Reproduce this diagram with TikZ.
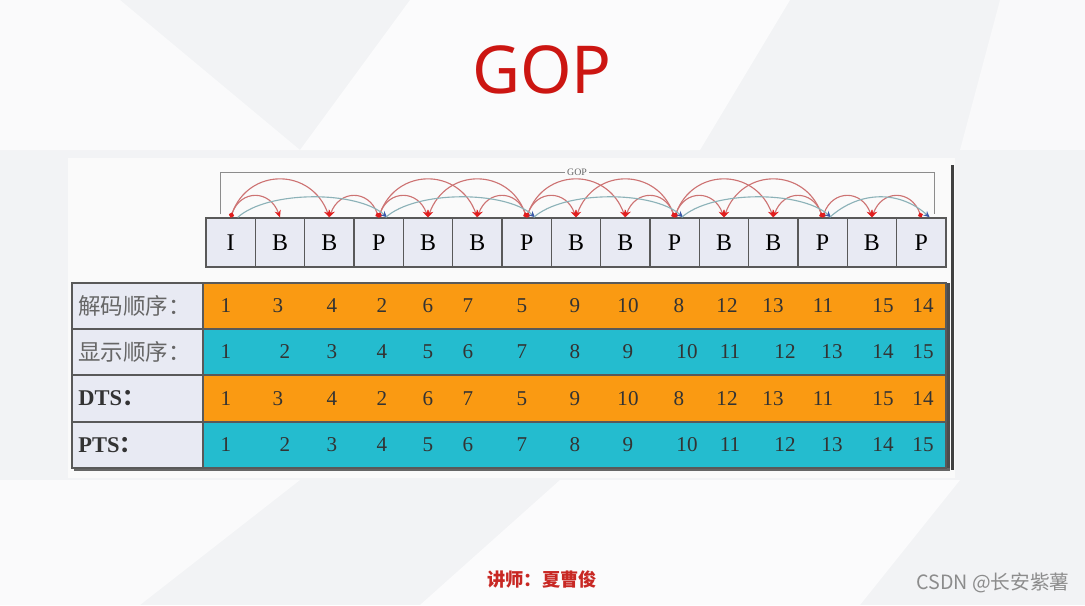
\documentclass[tikz,border=0pt]{standalone}
\usepackage{fontspec}
\setmainfont{Liberation Serif}
\newfontfamily\cjk{Noto Sans CJK SC}
\newfontfamily\titlefont{Noto Sans}
\usetikzlibrary{positioning}
\usetikzlibrary{arrows.meta}
\usetikzlibrary{calc}

\definecolor{titlered}{RGB}{204,22,18}
\definecolor{orangerow}{RGB}{250,154,18}
\definecolor{cyanrow}{RGB}{36,188,207}
\definecolor{framefill}{RGB}{232,234,243}
\definecolor{arcred}{RGB}{205,115,115}
\definecolor{tipred}{RGB}{225,30,30}
\definecolor{arcteal}{RGB}{140,178,184}
\definecolor{tipblue}{RGB}{60,90,170}
\definecolor{bggray}{RGB}{242,243,245}
\definecolor{footred}{RGB}{200,40,36}

\begin{document}
\begin{tikzpicture}
          [
          x=0.025cm, y=-0.025cm,
          Frame/.style={rectangle, draw=black!65, fill=framefill, line width=0.9pt, minimum width=1.233cm, minimum height=1.225cm, inner sep=0pt, font=\fontsize{17}{17}\selectfont},
          Num/.style={font=\fontsize{15}{15}\selectfont, text=black!80, inner sep=1pt},
          Lab/.style={anchor=west, inner sep=0pt, font=\fontsize{16}{16}\selectfont},
          RedArc/.style={draw=arcred, line width=0.8pt},
          Fwd/.style={{Circle[length=3.5pt,color=tipred]}-{Stealth[length=5pt,width=4.5pt,color=tipred]}},
          Bwd/.style={{Stealth[length=5pt,width=4.5pt,color=tipred]}-{Circle[length=3.5pt,color=tipred]}},
          TealArc/.style={draw=arcteal, line width=0.8pt, -{Stealth[length=4.5pt,width=4pt,color=tipblue]}},
          ]
          \useasboundingbox (0,0) rectangle (1085,605);

          % Background
          \fill[bggray] (0,0) rectangle (1085,605);
          \fill[white!60!bggray] (0,0) -- (120,0) -- (300,150) -- (0,150) -- cycle;
          \fill[white!70!bggray] (410,0) -- (790,0) -- (700,150) -- (300,150) -- cycle;
          \fill[white!50!bggray] (1000,0) -- (1085,0) -- (1085,150) -- (960,150) -- cycle;
          \fill[white!60!bggray] (0,480) -- (300,480) -- (140,605) -- (0,605) -- cycle;
          \fill[white!70!bggray] (560,480) -- (960,480) -- (860,605) -- (420,605) -- cycle;
          \fill[white!98!black] (68,158) rectangle (955,478);

          % Title
          \node[text=titlered, font=\titlefont\fontsize{47}{47}\selectfont] (title) at (542,70) {GOP};

          % Frames
          \foreach \t [count=\i] in {I,B,B,P,B,B,P,B,B,P,B,B,P,B,P}
            \node[Frame] (f\i) at ({206+49.33*(\i-0.5)},242.5) {\t};

          % GOP bracket
          \coordinate (gl) at ($(f1.north)+(-10,-3)$);
          \coordinate (gr) at ($(f15.north)+(13,-3)$);
          \node[fill=white!98!black, inner sep=1.5pt, text=black!60, font=\fontsize{7}{7}\selectfont] (gop) at (577,172) {GOP};
          \draw[black!45, line width=0.6pt] (gl) |- (gop.west);
          \draw[black!45, line width=0.6pt] (gop.east) -| (gr);

          % Lines
          \foreach \a/\b in {1/2,4/5,7/8,10/11,13/14}
            \draw[RedArc, Fwd] (f\a.north) .. controls +(10,-28) and +(-10,-28) .. (f\b.north);
          \foreach \a/\b in {3/4,6/7,9/10,12/13,14/15}
            \draw[RedArc, Bwd] (f\a.north) .. controls +(10,-28) and +(-10,-28) .. (f\b.north);
          \foreach \a/\b in {1/3,4/6,7/9,10/12}
            \draw[RedArc, Fwd] (f\a.north) .. controls +(18,-50) and +(-18,-50) .. (f\b.north);
          \foreach \a/\b in {5/7,8/10,11/13}
            \draw[RedArc, Bwd] (f\a.north) .. controls +(18,-50) and +(-18,-50) .. (f\b.north);
          \foreach \a/\b in {1/4,4/7,7/10,10/13,13/15}
            \draw[TealArc] ([xshift=5pt]f\a.north) .. controls +(30,-27) and +(-30,-27) .. ([xshift=6pt]f\b.north);

          % Table
          \fill[orangerow] (203,283) rectangle (946,329);
          \fill[cyanrow] (203,329) rectangle (946,375);
          \fill[orangerow] (203,375) rectangle (946,422);
          \fill[cyanrow] (203,422) rectangle (946,468);
          \fill[framefill] (72,283) rectangle (203,468);
          \fill[black!70] (946,283) rectangle (950,470);
          \fill[black!60] (74,468) rectangle (950,471);
          \fill[black!75] (951,165) rectangle (954,470);
          \draw[black!65, line width=0.9pt] (72,283) rectangle (946,468);
          \foreach \y in {329,375,422}
            \draw[black!65, line width=0.9pt] (72,\y) -- (946,\y);
          \draw[black!65, line width=0.9pt] (203,283) -- (203,468);

          % Row labels
          \node[Lab, text=black!60] (dec) at (78,306) {\cjk 解码顺序：};
          \node[Lab, text=black!60] (dis) at (78,352) {\cjk 显示顺序：};
          \node[Lab, text=black!80] (dts) at (78,398.5) {\textbf{DTS}{\cjk\bfseries ：}};
          \node[Lab, text=black!80] (pts) at (78,445) {\textbf{PTS}{\cjk\bfseries ：}};

          % Numbers
          \foreach \x/\v [count=\i] in {226/1,278/3,332/4,382/2,428/6,468/7,522/5,575/9,628/10,679/8,727/12,773/13,823/11,883/15,923/14} {
            \node[Num] (dec\i) at (\x,306) {\v};
            \node[Num] (dts\i) at (\x,398.5) {\v};
          }
          \foreach \x [count=\i] in {226,285,332,382,428,468,522,575,628,687,730,785,832,883,923} {
            \node[Num] (dis\i) at (\x,352) {\i};
            \node[Num] (pts\i) at (\x,445) {\i};
          }

          % Footer
          \node[text=footred, font=\cjk\bfseries\fontsize{13}{13}\selectfont] (teacher) at (542,580) {讲师：夏曹俊};
          \node[text=black!45, font=\cjk\fontsize{14}{14}\selectfont] (csdn) at (993,583) {CSDN @长安紫薯};
        \end{tikzpicture}
\end{document}
